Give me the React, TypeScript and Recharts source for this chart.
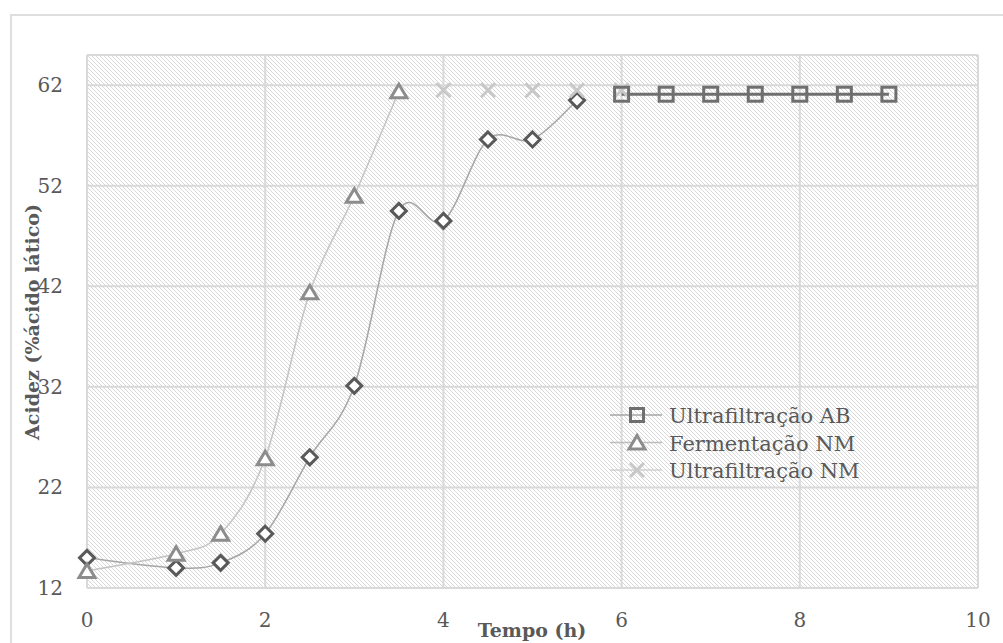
import { LineChart, Line, XAxis, YAxis, CartesianGrid, Legend } from 'recharts';

// Tempo (h) / Acidez values per series
const fermAB_t = [0, 1, 1.5, 2, 2.5, 3, 3.5, 4, 4.5, 5, 5.5];
const fermAB = [15.0, 14.0, 14.5, 17.4, 25.0, 32.1, 49.5, 48.5, 56.6, 56.6, 60.5];

const fermNM_t = [0, 1, 1.5, 2, 2.5, 3, 3.5];
const fermNM = [13.7, 15.4, 17.4, 24.9, 41.4, 51.0, 61.4];

const ultraNM_t = [4, 4.5, 5, 5.5, 6];
const ultraNM = [61.5, 61.5, 61.5, 61.5, 61.5];

const ultraAB_t = [6, 6.5, 7, 7.5, 8, 8.5, 9];
const ultraAB = [61.1, 61.1, 61.1, 61.1, 61.1, 61.1, 61.1];

const xTicks = [0, 2, 4, 6, 8, 10];
const yTicks = [12, 22, 32, 42, 52, 62];

const zip = (t: number[], v: number[]) => t.map((x, i) => ({ x, y: v[i] }));

const FONT = '"DejaVu Serif", serif';
const TEXT = '#595959';

// Excel-like smoothed line (Catmull-Rom through every point)
const excelSmooth = (context: any) => {
  let pts: [number, number][] = [];
  return {
    areaStart() {},
    areaEnd() {},
    lineStart() {
      pts = [];
    },
    point(x: number, y: number) {
      pts.push([x, y]);
    },
    lineEnd() {
      if (!pts.length) return;
      context.moveTo(pts[0][0], pts[0][1]);
      for (let i = 0; i < pts.length - 1; i++) {
        const p0 = pts[i - 1] || pts[i];
        const p1 = pts[i];
        const p2 = pts[i + 1];
        const p3 = pts[i + 2] || p2;
        context.bezierCurveTo(
          p1[0] + (p2[0] - p0[0]) / 6,
          p1[1] + (p2[1] - p0[1]) / 6,
          p2[0] - (p3[0] - p1[0]) / 6,
          p2[1] - (p3[1] - p1[1]) / 6,
          p2[0],
          p2[1]
        );
      }
    },
  };
};

const diamond = (cx: number, cy: number, key?: any) => (
  <path
    key={key}
    d={`M${cx},${cy - 7.5} L${cx + 7.5},${cy} L${cx},${cy + 7.5} L${cx - 7.5},${cy} Z`}
    fill="#fff"
    stroke="#595959"
    strokeWidth={3}
  />
);
const triangle = (cx: number, cy: number, key?: any) => (
  <path
    key={key}
    d={`M${cx},${cy - 7} L${cx + 8},${cy + 6.5} L${cx - 8},${cy + 6.5} Z`}
    fill="#fff"
    stroke="#8c8c8c"
    strokeWidth={3}
  />
);
const square = (cx: number, cy: number, key?: any, s = 7) => (
  <rect key={key} x={cx - s} y={cy - s} width={s * 2} height={s * 2} fill="none" stroke="#6f6f6f" strokeWidth={3} />
);
const cross = (cx: number, cy: number, key?: any) => (
  <path
    key={key}
    d={`M${cx - 7},${cy - 7} L${cx + 7},${cy + 7} M${cx + 7},${cy - 7} L${cx - 7},${cy + 7}`}
    stroke="#c8c8c8"
    strokeWidth={3}
  />
);

const YTick = ({ y, payload }: any) => (
  <text x={63} y={y + 7} textAnchor="end" fill={TEXT} fontSize={20} fontFamily={FONT}>
    {payload.value}
  </text>
);
const XTick = ({ x, payload }: any) => (
  <text x={x} y={627} textAnchor="middle" fill={TEXT} fontSize={20} fontFamily={FONT}>
    {payload.value}
  </text>
);

const XTitle = () => (
  <text x={532} y={637} textAnchor="middle" fill={TEXT} fontSize={19} fontWeight="bold" fontFamily={FONT}>
    Tempo (h)
  </text>
);
const YTitle = () => (
  <text
    x={39}
    y={322}
    transform="rotate(-90 39 322)"
    textAnchor="middle"
    fill={TEXT}
    fontSize={19}
    fontWeight="bold"
    fontFamily={FONT}
  >
    Acidez (%ácido lático)
  </text>
);

const legendItems = [
  { name: 'Ultrafiltração AB', mark: square, line: '#a6a6a6' },
  { name: 'Fermentação NM', mark: triangle, line: '#bdbdbd' },
  { name: 'Ultrafiltração NM', mark: cross, line: '#d0d0d0' },
];

const LegendBox = () => (
  <svg width={270} height={95}>
    {legendItems.map((it, i) => {
      const cy = 20 + i * 27.5;
      return (
        <g key={it.name}>
          <line x1={10} x2={62} y1={cy} y2={cy} stroke={it.line} strokeWidth={1.5} />
          {it.name === 'Ultrafiltração AB' ? square(37, cy, undefined, 6.5) : it.mark(37, cy)}
          <text x={69} y={cy + 8} fill={TEXT} fontSize={21} fontFamily={FONT}>
            {it.name}
          </text>
        </g>
      );
    })}
  </svg>
);

export default function App() {
  return (
    <div style={{ position: 'absolute', left: 0, top: 0, width: 1003, height: 643, overflow: 'hidden', background: '#fff' }}>
      <svg width={0} height={0} style={{ position: 'absolute' }}>
        <defs>
          <pattern id="hatch" patternUnits="userSpaceOnUse" width={4} height={4}>
            <rect width={4} height={4} fill="#fff" />
            <path d="M-1,-1 L5,5 M-1,3 L1,5 M3,-1 L5,1" stroke="#d8d8d8" strokeWidth={1} />
          </pattern>
        </defs>
      </svg>
      <div
        style={{
          position: 'absolute',
          left: 10,
          top: 14,
          width: 1010,
          height: 700,
          border: '2px solid #dedede',
        }}
      />
      <div style={{ position: 'absolute', left: 0, top: 0 }}>
        <LineChart width={1003} height={643} margin={{ top: 55, right: 25, bottom: 0, left: 0 }}>
          <CartesianGrid fill="url(#hatch)" fillOpacity={1} stroke="#d9d9d9" strokeWidth={2} />
          <XAxis
            type="number"
            dataKey="x"
            domain={[0, 10]}
            ticks={xTicks}
            height={55}
            axisLine={false}
            tickLine={false}
            tick={<XTick />}
            label={<XTitle />}
          />
          <YAxis
            type="number"
            domain={[12, 65]}
            ticks={yTicks}
            width={87}
            axisLine={false}
            tickLine={false}
            tick={<YTick />}
            label={<YTitle />}
          />
          <Line
            data={zip(fermAB_t, fermAB)}
            dataKey="y"
            name="Fermentação AB"
            type={excelSmooth as any}
            stroke="#a6a6a6"
            strokeWidth={1.5}
            dot={(p: any) => diamond(p.cx, p.cy, p.key ?? p.index)}
            activeDot={false}
            isAnimationActive={false}
          />
          <Line
            data={zip(fermNM_t, fermNM)}
            dataKey="y"
            name="Fermentação NM"
            type={excelSmooth as any}
            stroke="#c4c4c4"
            strokeWidth={1.5}
            dot={(p: any) => triangle(p.cx, p.cy, p.key ?? p.index)}
            activeDot={false}
            isAnimationActive={false}
          />
          <Line
            data={zip(ultraNM_t, ultraNM)}
            dataKey="y"
            name="Ultrafiltração NM"
            type="linear"
            stroke="none"
            dot={(p: any) => cross(p.cx, p.cy, p.key ?? p.index)}
            activeDot={false}
            isAnimationActive={false}
          />
          <Line
            data={zip(ultraAB_t, ultraAB)}
            dataKey="y"
            name="Ultrafiltração AB"
            type="linear"
            stroke="#6f6f6f"
            strokeWidth={3}
            dot={(p: any) => square(p.cx, p.cy, p.key ?? p.index)}
            activeDot={false}
            isAnimationActive={false}
          />
          <Legend
            layout="vertical"
            align="center"
            verticalAlign="middle"
            content={<LegendBox />}
            wrapperStyle={{ left: 600, top: 395, width: 270, height: 95 }}
          />
        </LineChart>
      </div>
    </div>
  );
}
